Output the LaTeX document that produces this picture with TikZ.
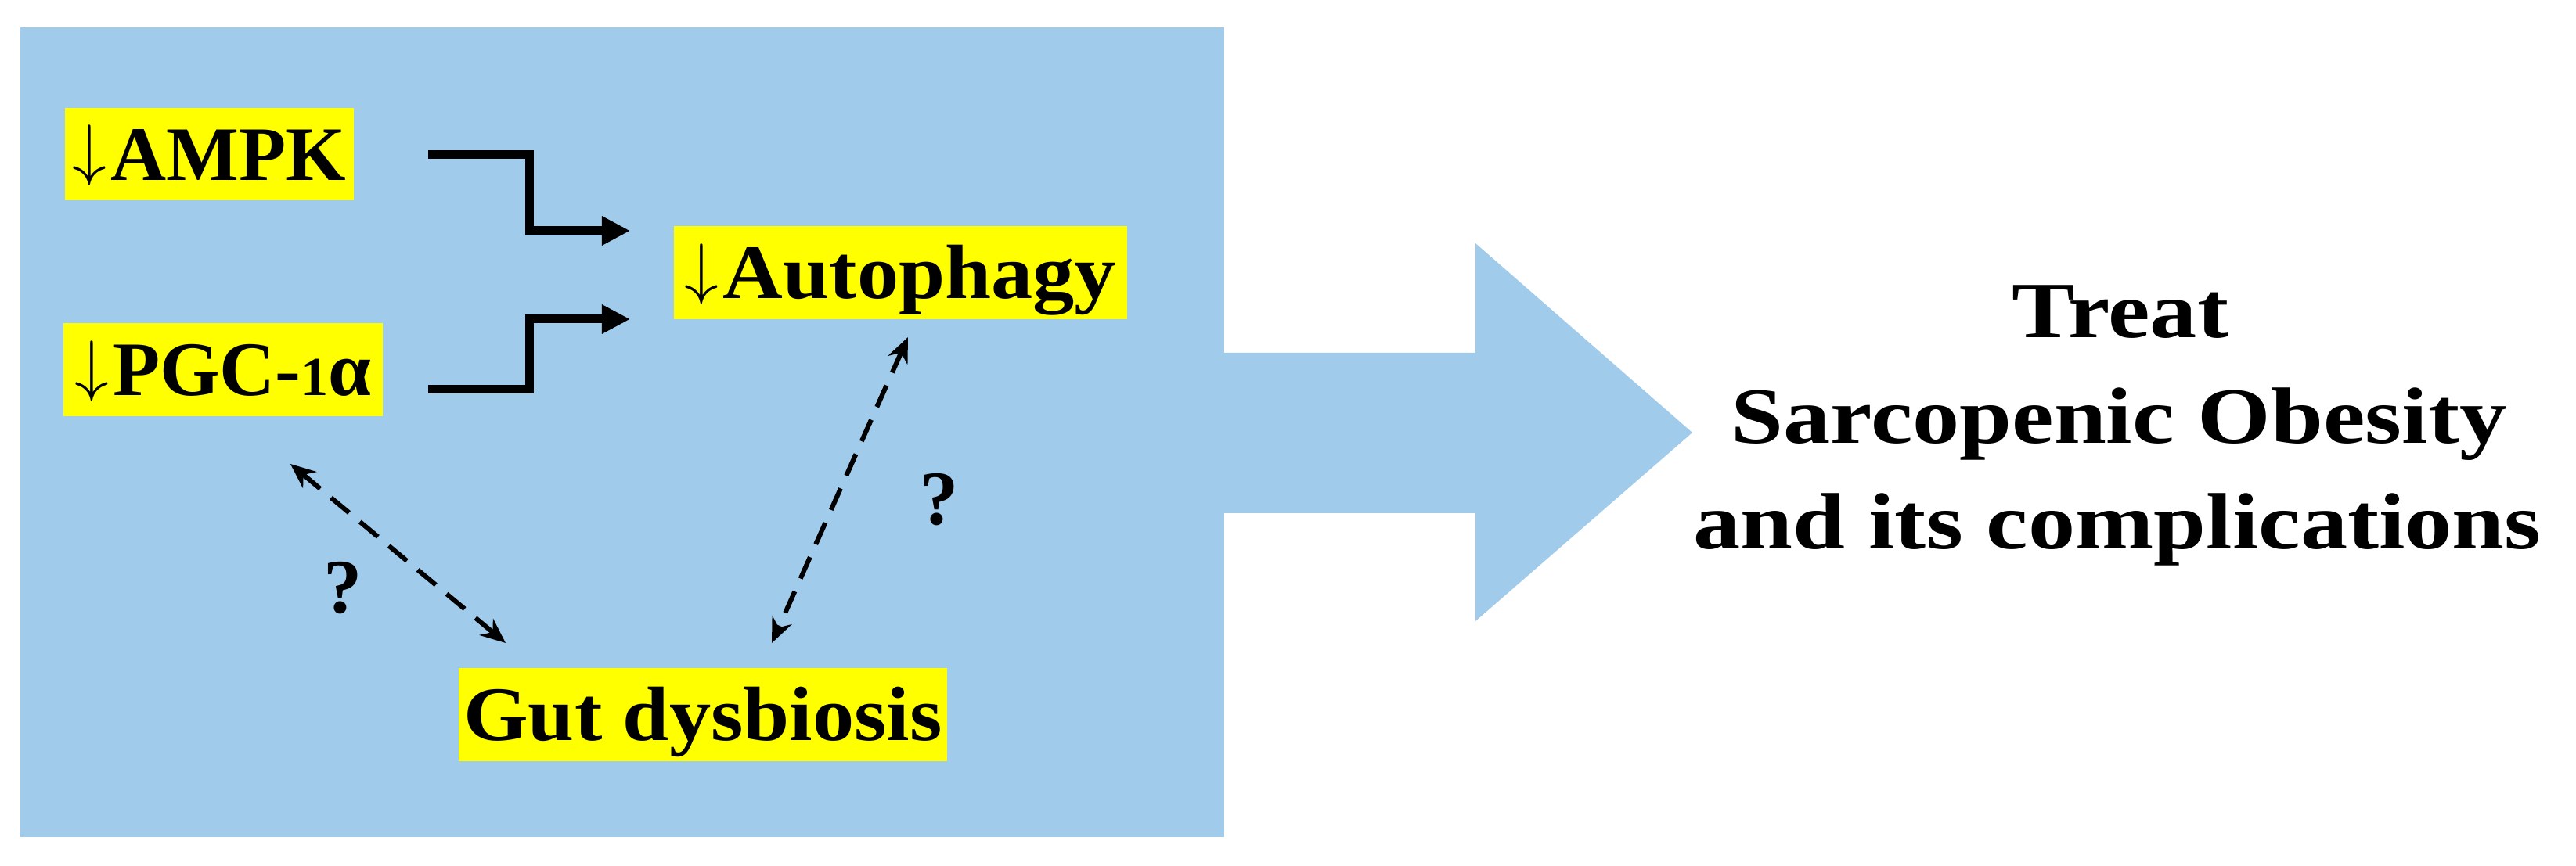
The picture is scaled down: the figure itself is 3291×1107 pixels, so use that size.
\documentclass[tikz,border=0pt]{standalone}
\usepackage{fontspec}
\setmainfont{Liberation Serif}
\newfontfamily\widefont{Liberation Serif}[FakeStretch=1.08]
\newfontfamily\rtfont{Liberation Serif}[FakeStretch=1.18]
\usetikzlibrary{arrows.meta}
\definecolor{boxblue}{RGB}{160,203,234}
\definecolor{hl}{RGB}{255,255,0}
\newcommand{\dnarr}{\raisebox{2.7pt}{\fontsize{28.8}{30}\selectfont$\downarrow$}\hspace{1.5pt}}
\newcommand{\osone}{{\fontsize{20}{20}\selectfont 1}}
\begin{document}
\begin{tikzpicture}[x=0.01cm,y=-0.01cm,
  lab/.style={fill=hl, inner xsep=0pt, inner ysep=0pt, minimum height=1.18cm,
    text height=0.66cm, text depth=0pt, font=\bfseries\fontsize{28}{34}\selectfont},
  labw/.style={lab, font=\widefont\bfseries\fontsize{28}{34}\selectfont},
  rt/.style={inner sep=0pt, anchor=base, font=\rtfont\bfseries\fontsize{29}{34}\selectfont},
  qm/.style={inner sep=0pt, font=\bfseries\fontsize{28}{34}\selectfont},
  conn/.style={line width=0.11cm, line join=miter, -{Triangle[length=0.36cm,width=0.35cm]}},
  dconn/.style={line width=0.06cm, dash pattern=on 0.3cm off 0.18cm,
    {Stealth[length=0.32cm,width=0.27cm]}-{Stealth[length=0.32cm,width=0.27cm]}}]
\useasboundingbox (0,0) rectangle (3291,1107);
\fill[white] (0,0) rectangle (3291,1107);
\fill[boxblue] (26,35) rectangle (1564,1070);
\fill[boxblue] (1563,451) -- (1885,451) -- (1885,311) -- (2162,553) -- (1885,794) -- (1885,656) -- (1563,656) -- cycle;

\node[lab, minimum width=3.69cm] (ampk) at (267.5,197) {\dnarr AMPK};
\node[lab, minimum width=4.08cm] (pgc) at (285,472.5) {\dnarr PGC-\osone α};
\node[labw, minimum width=5.79cm] (auto) at (1150.5,348.5) {\dnarr Autophagy};
\node[labw, minimum width=6.24cm] (gut) at (898,913.5) {Gut dysbiosis};

\coordinate (a0) at (547,198);
\coordinate (a1) at (805,295);
\coordinate (p0) at (547,498);
\coordinate (p1) at (805,408);
\draw[conn] (a0) -- (676,198) -- (676,295) -- (a1);
\draw[conn] (p0) -- (676,498) -- (676,408) -- (p1);

\coordinate (d1s) at (371,593);
\coordinate (d1e) at (646,822);
\coordinate (d2s) at (1160,431);
\coordinate (d2e) at (986,822);
\draw[dconn] (d1s) -- (d1e);
\draw[dconn] (d2s) -- (d2e);

\node[qm] (q1) at (438,752) {?};
\node[qm] (q2) at (1200,639) {?};

\node[rt] (t1) at (2709,432) {Treat};
\node[rt] (t2) at (2707,567) {Sarcopenic Obesity};
\node[rt] (t3) at (2705,702) {and its complications};
\end{tikzpicture}
\end{document}
